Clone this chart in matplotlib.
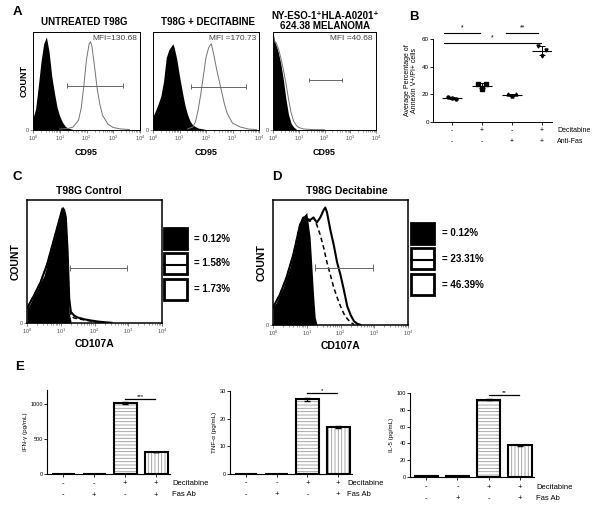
import numpy as np
import matplotlib
matplotlib.use('Agg')
import matplotlib.pyplot as plt
from matplotlib.patches import Rectangle
from matplotlib.ticker import NullFormatter

plt.rcParams['font.family'] = ['Liberation Sans', 'DejaVu Sans']
plt.rcParams['hatch.linewidth'] = 0.6

W, H = 600, 511

# ---- A: CD95 histograms (log10 decade, % of max count)
a1_neg_dec = [0, 0.1, 0.2, 0.3, 0.4, 0.5, 0.6, 0.7, 0.8, 0.9, 1.0, 1.1, 1.2, 1.3, 1.5]
a1_neg_h = [12, 22, 45, 70, 88, 95, 80, 55, 38, 23, 14, 8, 4, 2, 0.5]
a1_pos_dec = [1.0, 1.3, 1.5, 1.7, 1.8, 1.9, 2.0, 2.1, 2.15, 2.2, 2.3, 2.4, 2.5, 2.6, 2.8, 3.0, 3.3, 3.6]
a1_pos_h = [1, 1.5, 3, 10, 22, 45, 72, 88, 90, 86, 65, 42, 26, 15, 6, 2.5, 1, 0.5]

a2_neg_dec = [0, 0.1, 0.2, 0.3, 0.4, 0.5, 0.6, 0.7, 0.75, 0.8, 0.9, 1.0, 1.1, 1.2, 1.3, 1.4, 1.5, 1.7, 2.0]
a2_neg_h = [14, 20, 27, 35, 50, 74, 82, 86, 88, 84, 72, 55, 40, 26, 16, 9, 5, 2, 0.5]
a2_pos_dec = [1.3, 1.5, 1.6, 1.7, 1.8, 1.9, 2.0, 2.1, 2.2, 2.3, 2.4, 2.5, 2.6, 2.7, 2.8, 3.0, 3.3, 3.6, 3.9]
a2_pos_h = [1, 3, 8, 20, 36, 55, 74, 84, 88, 76, 62, 50, 38, 26, 17, 7, 3, 1, 0.5]

a3_neg_dec = [0, 0.05, 0.1, 0.15, 0.2, 0.3, 0.4, 0.5, 0.6, 0.7, 0.8, 0.9]
a3_neg_h = [100, 92, 88, 84, 80, 68, 52, 32, 16, 7, 3, 1]
a3_pos_dec = [0, 0.05, 0.1, 0.2, 0.3, 0.4, 0.5, 0.6, 0.7, 0.8, 0.9, 1.0, 1.2, 1.5, 2.0]
a3_pos_h = [96, 90, 90, 84, 74, 62, 48, 32, 18, 9, 5, 2.5, 1, 0.5, 0.2]

a_titles = ['UNTREATED T98G', 'T98G + DECITABINE', 'NY-ESO-1⁺HLA-A0201⁺\n624.38 MELANOMA']
a_mfi = ['MFI=130.68', 'MFI =170.73', 'MFI =40.68']
a_gates = [(1.27, 3.37, 45), (1.43, 3.5, 44), (1.4, 2.68, 51)]

# ---- B: Annexin V+/PI+ (%)
b_points = [[17.8, 16.8, 17.0], [27.5, 27.5, 24.0], [20.2, 20.3, 19.0], [54.7, 52.0, 48.0]]
b_decitabine = ['-', '+', '-', '+']
b_antifas = ['-', '-', '+', '+']
b_sig = [(0.73, 1.93, 64.3, '*'), (2.8, 3.87, 64.3, '**'), (0.73, 3.97, 57.0, '*')]

# ---- C / D: CD107A histograms
c_neg_dec = [0, 0.1, 0.2, 0.3, 0.4, 0.5, 0.6, 0.7, 0.8, 0.9, 1.0, 1.05, 1.1, 1.15, 1.2, 1.25, 1.3]
c_neg_h = [12, 16, 22, 27, 33, 38, 48, 58, 68, 78, 88, 95, 93, 80, 40, 8, 2]
c_dash_dec = [0, 0.2, 0.4, 0.6, 0.8, 1.0, 1.05, 1.1, 1.15, 1.2, 1.25, 1.3, 1.4, 1.6, 1.8, 2.0, 2.3]
c_dash_h = [12, 22, 33, 48, 68, 88, 92, 90, 82, 55, 15, 6, 4, 3, 2, 1, 0.3]
c_solid_dec = [0, 0.2, 0.4, 0.6, 0.8, 1.0, 1.05, 1.1, 1.15, 1.2, 1.25, 1.3, 1.4, 1.5, 1.7, 1.9, 2.1, 2.3, 2.5]
c_solid_h = [12, 22, 33, 48, 68, 88, 93, 92, 86, 60, 20, 9, 6, 4.5, 3, 2, 1.2, 0.6, 0.2]

d_neg_dec = [0, 0.1, 0.2, 0.3, 0.4, 0.5, 0.6, 0.7, 0.8, 0.9, 1.0, 1.1, 1.2, 1.25, 1.3]
d_neg_h = [14, 18, 24, 30, 38, 46, 56, 68, 80, 87, 90, 70, 25, 6, 1]
d_dash_dec = [0, 0.2, 0.4, 0.6, 0.8, 0.9, 1.0, 1.1, 1.2, 1.3, 1.4, 1.5, 1.6, 1.7, 1.8, 1.9, 2.0, 2.1, 2.2, 2.3, 2.4]
d_dash_h = [14, 24, 38, 56, 80, 86, 84, 83, 86, 80, 72, 62, 50, 40, 30, 22, 15, 9, 5, 2, 0.5]
d_solid_dec = [0, 0.2, 0.4, 0.6, 0.8, 0.9, 1.0, 1.1, 1.2, 1.3, 1.4, 1.5, 1.55, 1.6, 1.7, 1.8, 1.9, 2.0,
               2.1, 2.2, 2.3, 2.4, 2.5, 2.6]
d_solid_h = [14, 24, 38, 56, 80, 86, 85, 84, 86, 82, 86, 92, 94, 90, 76, 64, 50, 40, 28, 15, 8, 3, 1, 0]

c_legend = ['= 0.12%', '= 1.58%', '= 1.73%']
d_legend = ['= 0.12%', '= 23.31%', '= 46.39%']
c_gate = (1.27, 2.96, 45)
d_gate = (1.24, 2.96, 46)

# ---- E: cytokines (pg/mL)
ifng = [0, 0, 1015, 315]
ifng_err = [0, 0, 12, 4]
tnfa = [0, 0, 27, 17]
tnfa_err = [0, 0, 0.5, 0.2]
il5 = [1, 1, 92, 38]
il5_err = [0, 0, 0.5, 0.5]
e_decitabine = ['-', '-', '+', '+']
e_fasab = ['-', '+', '-', '+']

fig = plt.figure(figsize=(6, 5.11), dpi=100)
ov = fig.add_axes([0, 0, 1, 1])
ov.set_xlim(0, W)
ov.set_ylim(H, 0)
ov.axis('off')


def ax_px(l, t, r, b):
    return fig.add_axes([l / W, 1 - b / H, (r - l) / W, (b - t) / H])


def flow_axes(l, t, r, b, lw):
    ax = ax_px(l, t, r, b)
    ax.set_xscale('log')
    ax.set_xlim(1, 1e4)
    ax.set_ylim(0, 100)
    ax.set_yticks([0])
    ax.set_yticklabels(['0'])
    ax.xaxis.set_minor_formatter(NullFormatter())
    ax.tick_params(which='major', labelsize=4, length=2, width=0.5, pad=1,
                   color='0.3', labelcolor='0.3')
    ax.tick_params(axis='x', which='minor', length=1.2, width=0.4, color='0.3')
    for s in ax.spines.values():
        s.set_linewidth(lw)
    return ax


def gate(ax, g):
    lo, hi, y = g
    ax.hlines(y, 10 ** lo, 10 ** hi, color='0.4', lw=0.7)
    ax.vlines([10 ** lo, 10 ** hi], y - 2.5, y + 2.5, color='0.4', lw=0.7)


def x(dec):
    return 10 ** np.array(dec)


# panel A
a_box = [(33, 32, 140, 130), (153, 32, 259, 130), (273, 32, 376, 130)]
a_neg = [(a1_neg_dec, a1_neg_h), (a2_neg_dec, a2_neg_h), (a3_neg_dec, a3_neg_h)]
a_pos = [(a1_pos_dec, a1_pos_h), (a2_pos_dec, a2_pos_h), (a3_pos_dec, a3_pos_h)]
for i in range(3):
    ax = flow_axes(*a_box[i], lw=0.7)
    pd_, ph = a_pos[i]
    nd, nh = a_neg[i]
    ax.fill_between(x(pd_), ph, color='white', lw=0)
    ax.plot(x(pd_), ph, color='0.45', lw=0.7)
    ax.fill_between(x(nd), nh, color='black', lw=0)
    gate(ax, a_gates[i])
    ax.text(0.97, 0.97, a_mfi[i], transform=ax.transAxes, ha='right', va='top',
            fontsize=6, color='0.25')
    ax.set_xlabel('CD95', fontsize=6.5, fontweight='bold', labelpad=3)
    if i == 0:
        ax.set_ylabel('COUNT', fontsize=6.5, fontweight='bold', labelpad=-2)
ov.text(84, 22, a_titles[0], ha='center', va='center', fontsize=7, fontweight='bold')
ov.text(208, 22, a_titles[1], ha='center', va='center', fontsize=7, fontweight='bold')
ov.text(325, 21, a_titles[2], ha='center', va='center', fontsize=7, fontweight='bold',
        linespacing=1.1)

# panel B
axB = ax_px(433, 39, 552, 122)
bx = np.arange(1, 5)
markers = ['o', 's', '^', 'v']
for i, pts in enumerate(b_points):
    off = np.array([-0.12, 0.12, 0.0])
    axB.plot(bx[i] + off, pts, ls='none', marker=markers[i], ms=2.2, color='black')
    m, sd = np.mean(pts), np.std(pts, ddof=1)
    axB.hlines(m, bx[i] - 0.33, bx[i] + 0.33, color='black', lw=0.8)
    axB.errorbar(bx[i], m, yerr=sd, color='black', lw=0.7, capsize=2.5, capthick=0.7)
axB.set_xlim(0.37, 4.33)
axB.set_ylim(0, 60)
axB.set_yticks([0, 20, 40, 60])
axB.set_xticks(bx)
axB.set_xticklabels([])
axB.spines[['top', 'right']].set_visible(False)
for s in axB.spines.values():
    s.set_linewidth(0.7)
axB.tick_params(labelsize=4.5, length=2, width=0.6, pad=1)
axB.set_ylabel('Average Percentage of\nAnnexin V+/PI+ cells', fontsize=5, labelpad=3,
               linespacing=1.0)
for x1, x2, y, lab in b_sig:
    axB.plot([x1, x2], [y, y], color='black', lw=0.8, clip_on=False)
    axB.text((x1 + x2) / 2, y + 1.5, lab, ha='center', va='bottom', fontsize=5)
tr = axB.get_xaxis_transform()
for i in range(4):
    axB.text(bx[i], -0.1, b_decitabine[i], transform=tr, ha='center', va='center', fontsize=5)
    axB.text(bx[i], -0.24, b_antifas[i], transform=tr, ha='center', va='center', fontsize=5)
axB.text(4.5, -0.1, 'Decitabine', transform=tr, ha='left', va='center', fontsize=5)
axB.text(4.5, -0.24, 'Anti-Fas', transform=tr, ha='left', va='center', fontsize=5)


# panels C / D
def cd_panel(box, neg, dash, solid, g, title, tx):
    ax = flow_axes(*box, lw=1.1)
    ax.fill_between(x(neg[0]), neg[1], color='black', lw=0)
    ax.plot(x(dash[0]), dash[1], color='black', lw=1.1, ls=(0, (3, 2)))
    ax.plot(x(solid[0]), solid[1], color='black', lw=1.5)
    gate(ax, g)
    ax.set_xlabel('CD107A', fontsize=7.5, fontweight='bold', labelpad=2)
    ax.set_ylabel('COUNT', fontsize=7.5, fontweight='bold', labelpad=-1)
    ov.text(tx, 191, title, ha='center', va='center', fontsize=7.5, fontweight='bold')
    return ax


cd_panel((27, 200, 162, 323), (c_neg_dec, c_neg_h), (c_dash_dec, c_dash_h),
         (c_solid_dec, c_solid_h), c_gate, 'T98G Control', 89)
cd_panel((273, 200, 408, 325), (d_neg_dec, d_neg_h), (d_dash_dec, d_dash_h),
         (d_solid_dec, d_solid_h), d_gate, 'T98G Decitabine', 347)


def legend_boxes(x0, tops, labels, tx):
    for k, t in enumerate(tops):
        fc = 'black' if k == 0 else 'white'
        ov.add_patch(Rectangle((x0, t), 23, 21, fc=fc, ec='black', lw=2))
        if k == 1:
            ov.plot([x0, x0 + 23], [t + 12, t + 12], color='black', lw=1.5)
        ov.text(tx, t + 10.5, labels[k], ha='left', va='center', fontsize=7, fontweight='bold')


legend_boxes(164, [228, 253, 279], c_legend, 194)
legend_boxes(411, [223, 248, 274], d_legend, 442)


# panel E
def e_panel(box, vals, errs, ylim, yticks, ylabel, sig, lab_x, row_y):
    ax = ax_px(*box)
    ex = np.arange(1, 5)
    for i in range(4):
        hatch = {2: '-----', 3: '|||||'}.get(i)
        if hatch:
            ax.bar(ex[i], vals[i], width=0.74, color='white', edgecolor='0.6', hatch=hatch, lw=0)
        ax.bar(ex[i], vals[i], width=0.74, fill=(hatch is None), color='black',
               edgecolor='black', lw=1.5)
        if errs[i]:
            ax.errorbar(ex[i], vals[i], yerr=errs[i], color='black', lw=0.8, capsize=2)
    ax.set_xlim(0.48, 4.45)
    ax.set_ylim(*ylim)
    ax.set_yticks(yticks)
    ax.set_xticks(ex)
    ax.set_xticklabels([])
    ax.spines[['top', 'right']].set_visible(False)
    for s in ax.spines.values():
        s.set_linewidth(0.8)
    ax.tick_params(labelsize=4, length=2, width=0.6, pad=1)
    ax.set_ylabel(ylabel, fontsize=4.5, labelpad=2)
    x1, x2, y, lab = sig
    ax.plot([x1, x2], [y, y], color='black', lw=0.9, clip_on=False)
    ax.text((x1 + x2) / 2, y, lab, ha='center', va='bottom', fontsize=4.5)
    tr = ax.get_xaxis_transform()
    for i in range(4):
        ax.text(ex[i], row_y[0], e_decitabine[i], transform=tr, ha='center', va='center', fontsize=5.5)
        ax.text(ex[i], row_y[1], e_fasab[i], transform=tr, ha='center', va='center', fontsize=5.5)
    ax.text(lab_x, row_y[0], 'Decitabine', transform=tr, ha='left', va='center', fontsize=5.5)
    ax.text(lab_x, row_y[1], 'Fas Ab', transform=tr, ha='left', va='center', fontsize=5.5)


e_panel((47, 390, 170, 474), ifng, ifng_err, (0, 1200), [0, 500, 1000], 'IFN-γ (pg/mL)',
        (3, 3.97, 1071, '***'), 4.52, (-0.11, -0.25))
e_panel((230, 391, 352, 474), tnfa, tnfa_err, (0, 30), [0, 10, 20, 30], 'TNF-α (pg/mL)',
        (3, 3.97, 29.3, '*'), 4.29, (-0.11, -0.25))
e_panel((410, 393, 534, 477), il5, il5_err, (0, 100), [0, 20, 40, 60, 80, 100], 'IL-5 (pg/mL)',
        (3, 3.97, 97.6, '**'), 4.52, (-0.12, -0.26))

# panel letters
for lab, px, py in [('A', 17, 12), ('B', 414, 17), ('C', 17, 177), ('D', 277, 177), ('E', 20, 367)]:
    ov.text(px, py, lab, ha='center', va='center', fontsize=9.5, fontweight='bold')

fig.savefig('out.png', dpi=100)
